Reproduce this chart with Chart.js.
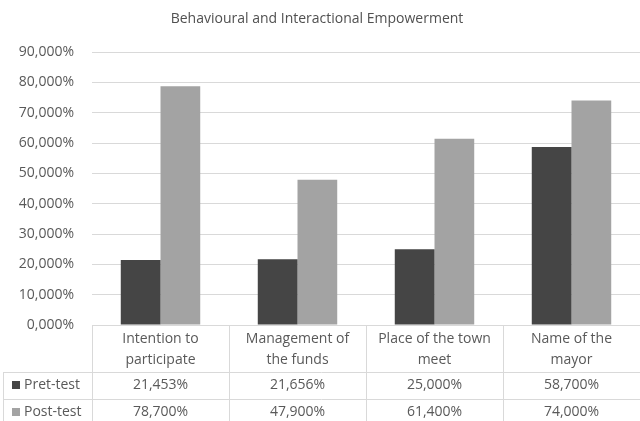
<!DOCTYPE html>
<html>
<head>
<meta charset="utf-8">
<title>Behavioural and Interactional Empowerment</title>
<script src="https://cdn.jsdelivr.net/npm/chart.js@4.4.0/dist/chart.umd.min.js"></script>
<style>
  html, body { margin: 0; padding: 0; background: #fff; }
  #wrap { width: 640px; height: 421px; }
</style>
</head>
<body>
<div id="wrap"><canvas id="empowerChart" width="640" height="421"></canvas></div>
<script>
// data
const categories = [
  ["Intention to", "participate"],
  ["Management of", "the funds"],
  ["Place of the town", "meet"],
  ["Name of the", "mayor"]
];
const seriesNames = ["Pret-test", "Post-test"];
const pretTest = [21.453, 21.656, 25.0, 58.7];
const postTest = [78.7, 47.9, 61.4, 74.0];
const yTickLabels = ["0,000%", "10,000%", "20,000%", "30,000%", "40,000%", "50,000%", "60,000%", "70,000%", "80,000%", "90,000%"];

const titleText = "Behavioural and Interactional Empowerment";
const fontFamily = "'Open Sans', sans-serif";
const textColor = "#595959";
const lineColor = "#d9d9d9";
const colors = ["#454545", "#a3a3a3"];

function pct(v) {
  return v.toFixed(3).replace(".", ",") + "%";
}

// title + data table under the plot
const tablePlugin = {
  id: "dataTable",
  afterDraw(chart) {
    const c = chart.ctx;
    const area = chart.chartArea;
    const x = chart.scales.x;
    const n = categories.length;
    const step = (area.right - area.left) / n;
    const top = area.bottom;
    const row1 = top + 47;
    const row2 = row1 + 27;
    const bottom = chart.height;

    c.save();
    // title
    c.fillStyle = "#505050";
    c.font = "14px " + fontFamily;
    c.textAlign = "center";
    c.textBaseline = "middle";
    c.fillText(titleText, 317, 19);

    // table lines
    c.strokeStyle = lineColor;
    c.lineWidth = 1;
    c.beginPath();
    c.moveTo(area.left, top + 0.5);
    c.lineTo(area.right, top + 0.5);
    c.moveTo(3, row1 + 0.5);
    c.lineTo(area.right, row1 + 0.5);
    c.moveTo(3, row2 + 0.5);
    c.lineTo(area.right, row2 + 0.5);
    c.moveTo(3.5, row1);
    c.lineTo(3.5, bottom);
    for (let i = 0; i < n; i++) {
      const bx = Math.round(area.left + step * i) + 0.5;
      c.moveTo(bx, top);
      c.lineTo(bx, bottom);
    }
    c.stroke();

    // category labels + values
    c.fillStyle = textColor;
    c.font = "14px " + fontFamily;
    c.textAlign = "center";
    categories.forEach((lines, i) => {
      const cx = x.getPixelForValue(i);
      c.fillText(lines[0], cx, top + 14);
      c.fillText(lines[1], cx, top + 35);
      c.fillText(pct(pretTest[i]), cx, row1 + 13);
      c.fillText(pct(postTest[i]), cx, row2 + 13);
    });

    // series keys in the first column
    c.textAlign = "left";
    [row1, row2].forEach((ry, k) => {
      c.fillStyle = colors[k];
      c.fillRect(12, ry + 9, 8, 8);
      c.fillStyle = textColor;
      c.fillText(seriesNames[k], 24, ry + 13);
    });
    c.restore();
  }
};

const ctx = document.getElementById("empowerChart").getContext("2d");
const empowerChart = new Chart(ctx, {
  type: "bar",
  data: {
    labels: categories.map(l => l.join(" ")),
    datasets: [
      {
        label: seriesNames[0],
        data: pretTest,
        backgroundColor: colors[0],
        borderWidth: 0,
        categoryPercentage: 0.58,
        barPercentage: 1.0
      },
      {
        label: seriesNames[1],
        data: postTest,
        backgroundColor: colors[1],
        borderWidth: 0,
        categoryPercentage: 0.58,
        barPercentage: 1.0
      }
    ]
  },
  options: {
    responsive: false,
    animation: false,
    layout: {
      padding: { top: 52, bottom: 96, left: 0, right: 0 }
    },
    plugins: {
      legend: { display: false },
      title: { display: false },
      tooltip: { enabled: false }
    },
    scales: {
      x: {
        display: false
      },
      y: {
        min: 0,
        max: 90,
        ticks: {
          stepSize: 10,
          padding: 18,
          color: textColor,
          font: { family: fontFamily, size: 14 },
          callback: (value, index) => yTickLabels[index]
        },
        grid: { color: lineColor, drawTicks: false },
        border: { display: false },
        afterFit(scale) { scale.width = 92; }
      }
    }
  },
  plugins: [tablePlugin]
});
</script>
</body>
</html>
